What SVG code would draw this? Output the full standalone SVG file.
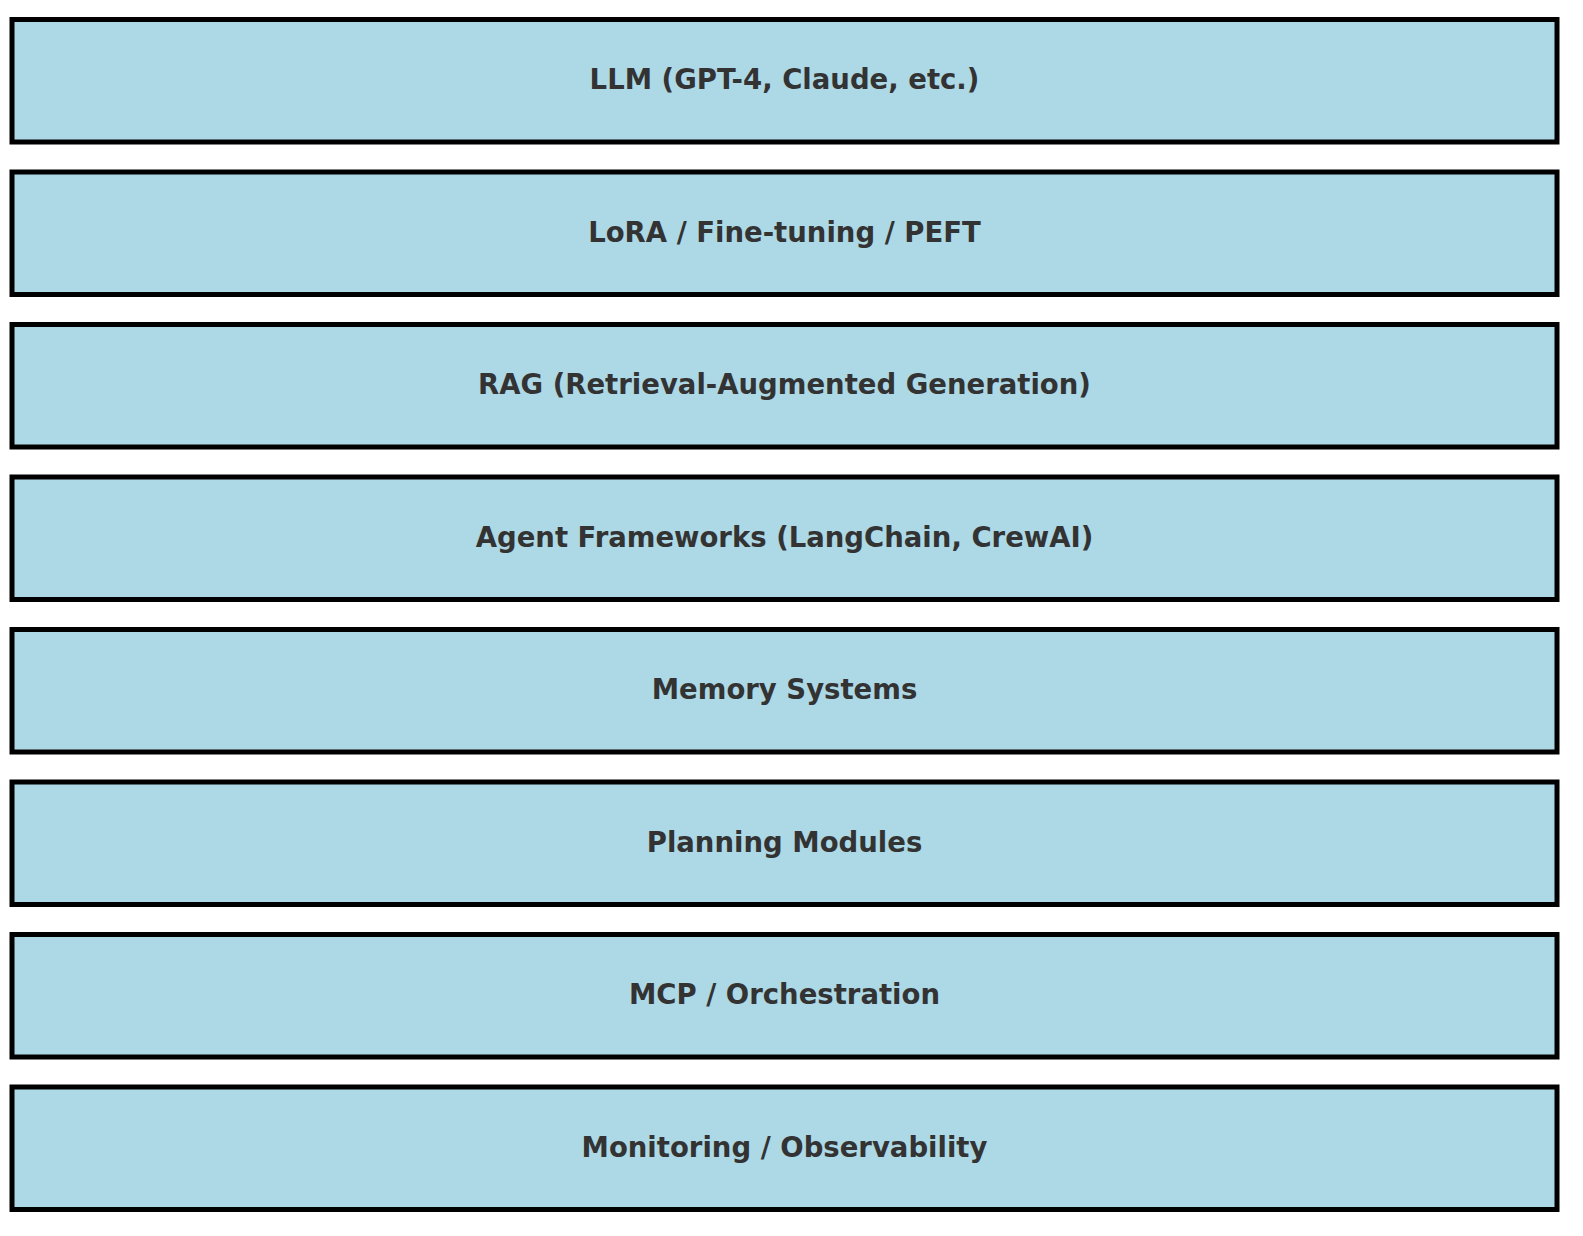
<svg xmlns="http://www.w3.org/2000/svg" width="1583" height="1236" viewBox="0 0 1583 1236">
<style>
.b{fill:#ADD8E6;stroke:#000;stroke-width:5}
.t{font-family:"DejaVu Sans",sans-serif;font-weight:bold;font-size:27.5px;fill:#333;text-anchor:middle;dominant-baseline:central}
</style>
<rect width="1583" height="1236" fill="#fff"/>
<g id="n1"><rect class="b" x="12" y="19.5" width="1545" height="122.5"/><text class="t" x="784.5" y="79">LLM (GPT-4, Claude, etc.)</text></g>
<g id="n2"><rect class="b" x="12" y="172" width="1545" height="122.5"/><text class="t" x="784.5" y="231.5">LoRA / Fine-tuning / PEFT</text></g>
<g id="n3"><rect class="b" x="12" y="324.5" width="1545" height="122.5"/><text class="t" x="784.5" y="384">RAG (Retrieval-Augmented Generation)</text></g>
<g id="n4"><rect class="b" x="12" y="477" width="1545" height="122.5"/><text class="t" x="784.5" y="536.5">Agent Frameworks (LangChain, CrewAI)</text></g>
<g id="n5"><rect class="b" x="12" y="629.5" width="1545" height="122.5"/><text class="t" x="784.5" y="689">Memory Systems</text></g>
<g id="n6"><rect class="b" x="12" y="782" width="1545" height="122.5"/><text class="t" x="784.5" y="841.5">Planning Modules</text></g>
<g id="n7"><rect class="b" x="12" y="934.5" width="1545" height="122.5"/><text class="t" x="784.5" y="994">MCP / Orchestration</text></g>
<g id="n8"><rect class="b" x="12" y="1087" width="1545" height="122.5"/><text class="t" x="784.5" y="1146.5">Monitoring / Observability</text></g>
<g id="connectors"></g>
</svg>
